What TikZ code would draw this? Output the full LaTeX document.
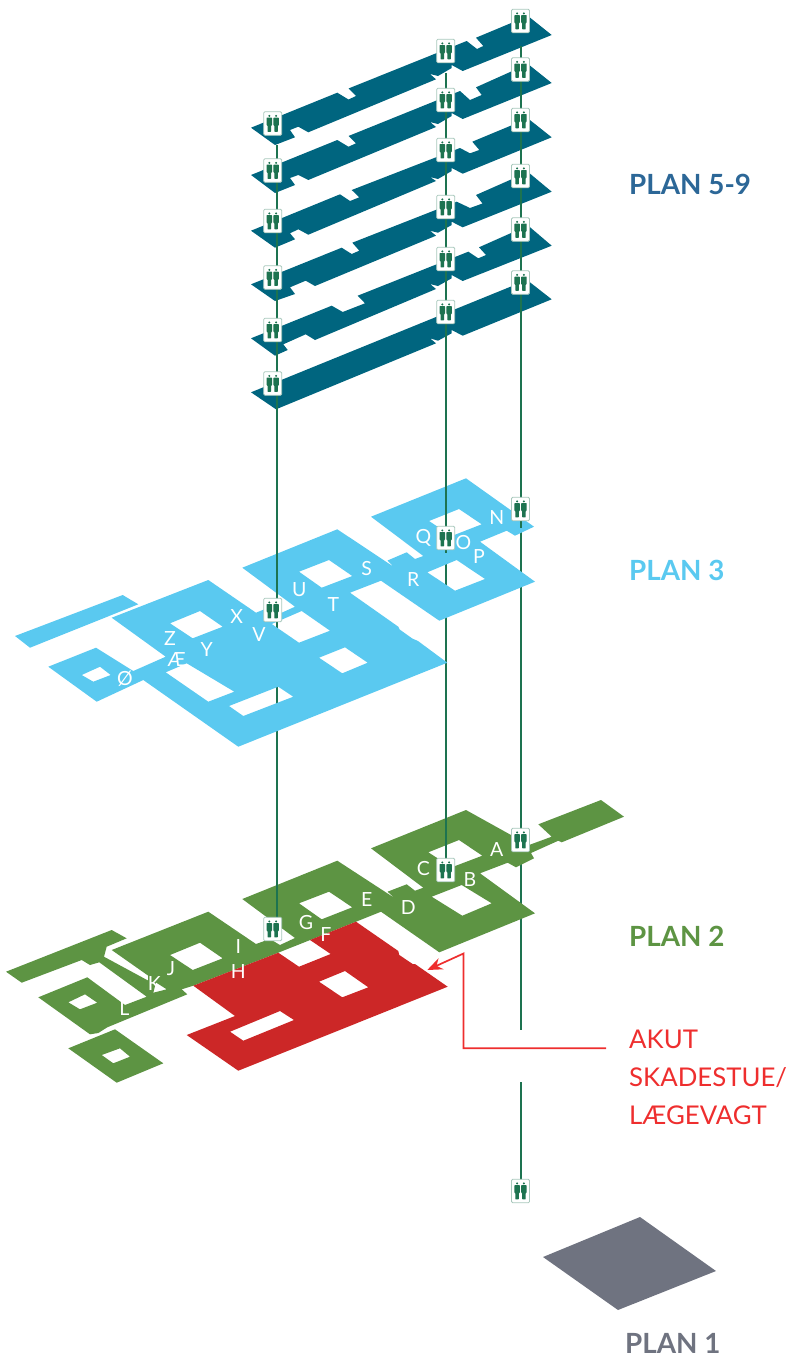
\documentclass[tikz,border=0pt]{standalone}
\usepackage{fontspec}
\setmainfont{Lato}
\usetikzlibrary{arrows.meta}
\definecolor{deckblue}{HTML}{00657F}
\definecolor{skyblue}{HTML}{5AC9F0}
\definecolor{parkgreen}{HTML}{5D9443}
\definecolor{akutred}{HTML}{CC2727}
\definecolor{linered}{HTML}{EE2E2E}
\definecolor{shaftgreen}{HTML}{1D7350}
\definecolor{liftedge}{HTML}{A8C8BC}
\definecolor{slategrey}{HTML}{6F7380}
\definecolor{planblue}{HTML}{2C6797}

\begin{document}
\begin{tikzpicture}[x=1pt, y=-1pt]
    \tikzstyle{deck} = [fill=deckblue, even odd rule]
    \tikzstyle{plan3} = [fill=skyblue, even odd rule]
    \tikzstyle{plan2} = [fill=parkgreen, even odd rule]
    \tikzstyle{akut} = [fill=akutred, even odd rule]
    \tikzstyle{shaft} = [draw=shaftgreen, line width=2.2pt]
    \tikzstyle{lift} = [rectangle, draw=liftedge, fill=white, line width=0.8pt, rounded corners=1.2pt, minimum width=18pt, minimum height=23.5pt, inner sep=0pt]
    \tikzstyle{letter} = [text=white, font=\fontsize{19.5}{19.5}\selectfont, inner sep=0pt]
    \tikzstyle{planlabel} = [anchor=west, font=\fontsize{27.8}{27.8}\selectfont\bfseries, inner sep=0pt]
    \tikzset{twomen/.pic={
        \foreach \dx in {-3.4,3.4} {
            \fill [shaftgreen] (\dx,-7.6) circle (1.1);
            \fill [shaftgreen, rounded corners=0.6pt] (\dx-2.8,-5.9) -- (\dx+2.8,-5.9) -- (\dx+2.8,1.8) -- (\dx+1.8,1.8) -- (\dx+1.8,8.4) -- (\dx-1.8,8.4) -- (\dx-1.8,1.8) -- (\dx-2.8,1.8) -- cycle;
        }
    }}
    \useasboundingbox (0,0) rectangle (787,1357);

    % Shaft ends
    \coordinate (leftTop) at (276.7,145);
    \coordinate (leftStop) at (276.7,600);
    \coordinate (leftMid) at (276.7,610);
    \coordinate (leftEnd) at (276.7,920);
    \coordinate (midTop) at (446,73);
    \coordinate (midStop) at (446,553);
    \coordinate (midEnd) at (446,860);
    \coordinate (rightTop) at (521,46);
    \coordinate (rightStop) at (521,528);
    \coordinate (rightEnd) at (521,830);
    \coordinate (rightLow) at (521,850);
    \coordinate (rightCut) at (521,1030);
    \coordinate (basementTop) at (521,1082);
    \coordinate (basementEnd) at (521,1180);

    % Under plan 2
    \draw [shaft] (rightLow) -- (rightCut);
    \draw [shaft] (basementTop) -- (basementEnd);

    % Plan 2
    \fill [plan2] (6,971.7) -- (111.7,930) -- (126.7,938.3) -- (106.7,946.7) -- (104,956.7) -- (148,980.5) -- (148,975.5) -- (111.7,950) -- (208.3,911.7) -- (256,944) -- (270,939) -- (280,945) -- (295,938) -- (242.3,899) -- (337.3,860.7) -- (395,898.3) -- (387.5,891.7) -- (406.7,884.3) -- (415,890.7) -- (423.3,887.7) -- (371,848.3) -- (466,810) -- (529,845) -- (551.7,836.7) -- (538.3,824.3) -- (601,800) -- (624,816.7) -- (561.7,842.3) -- (558.3,840.7) -- (531,853) -- (534,858.3) -- (516,867.3) -- (507.7,862.7) -- (480,873.3) -- (535,913.3) -- (439.3,952.3) -- (381,911.7) -- (356,921.7) -- (278.3,952.7) -- (193.3,985.7) -- (181.7,989.3) -- (187.3,994.3) -- (107.3,1027.3) -- (98.3,1033) -- (90,1034.3) -- (38.3,997.3) -- (87.3,977.3) -- (125,1005) -- (146.7,996.7) -- (99.3,962.3) -- (90,965) -- (81.7,960) -- (21.7,982.7) -- cycle
        (428.3,852.3) -- (459,840) -- (482.3,855.7) -- (451.7,867.3) -- cycle
        (431.7,896.7) -- (461.7,885) -- (491.7,903.3) -- (462.3,915.7) -- cycle
        (299,903.3) -- (329,891.7) -- (352.3,907.3) -- (321.7,919.3) -- cycle
        (170,955) -- (200,942.7) -- (222.7,958.3) -- (192.7,970) -- cycle
        (156,982.5) -- (166.7,989.3) -- (153.3,992.7) -- cycle
        (68.3,1002.3) -- (85,994.3) -- (97.3,1002.7) -- (80,1009.3) -- cycle;
    \fill [plan2] (68.3,1048.3) -- (115,1029.3) -- (163.3,1063.3) -- (116.7,1082.7) -- cycle
        (101.7,1055) -- (120,1048.3) -- (130,1056.7) -- (113.3,1063.3) -- cycle;
    \fill [akut] (356,921.7) -- (398.3,951) -- (399.3,955) -- (412.7,964) -- (415,964) -- (447.7,986.7) -- (238.3,1070.7) -- (186.7,1035) -- (235,1016) -- (193.3,985.7) -- (278.3,952.7) -- (299,966.7) -- (330.7,954) -- (310,940) -- cycle
        (319,981.7) -- (345,971) -- (368.3,987.3) -- (342.3,997.3) -- cycle
        (230,1031.7) -- (280,1011) -- (294,1020) -- (243.3,1040.7) -- cycle;

    % Under plan 3
    \draw [shaft] (leftMid) -- (leftEnd);
    \draw [shaft] (midStop) -- (midEnd);
    \draw [shaft] (rightStop) -- (rightEnd);

    % Plan 3
    \fill [plan3] (15,636) -- (122.7,595) -- (138.3,604.3) -- (30,647.7) -- cycle;
    \fill [plan3] (48.3,666.7) -- (96,647.7) -- (133.3,671) -- (165.7,656.7) -- (111.7,617.7) -- (208.3,580) -- (256,612.7) -- (270,607) -- (280,613.5) -- (295,606.7) -- (242.3,567.7) -- (337.3,529.3) -- (394,567) -- (387.5,560.5) -- (406.7,552.3) -- (415,559) -- (423.3,556) -- (371,516.7) -- (466,478.3) -- (534,526.7) -- (515,535.7) -- (506.7,530.7) -- (480,541.7) -- (535,581.7) -- (439.3,620.7) -- (381,580.7) -- (350,592.7) -- (398.3,626.7) -- (399.7,629.5) -- (412.3,638.5) -- (418,641) -- (447.3,662.7) -- (238.3,746.7) -- (143.3,680) -- (96.7,701.7) -- cycle
        (81.7,675) -- (100,666.7) -- (110.7,675) -- (93.3,681.7) -- cycle
        (165.7,672.3) -- (186.7,663.3) -- (234.3,691.7) -- (208.3,701.7) -- cycle
        (170,623.3) -- (200,611) -- (222.7,626.7) -- (192.7,638.3) -- cycle
        (229,706) -- (278.3,686.7) -- (293.3,696.7) -- (243.3,716) -- cycle
        (271.7,624) -- (301.7,611) -- (330,630.7) -- (299,642.7) -- cycle
        (299,571.7) -- (329,560) -- (352.3,576) -- (321.7,587.7) -- cycle
        (319,657.7) -- (345,647.3) -- (367.7,662.7) -- (342.3,673.3) -- cycle
        (429,521) -- (459,509) -- (481.7,524.3) -- (451.7,536) -- cycle
        (427.3,572.3) -- (456.7,560) -- (485,579) -- (455,590.7) -- cycle;

    % Plan 5-9
    \fill [deck] (251,127.7) -- (337.3,92.7) -- (348.5,99.5) -- (356,96) -- (348.5,88.5) -- (466.7,41) -- (477,49) -- (483.3,46) -- (476,37.7) -- (528,16) -- (551.7,35) -- (462.7,71) -- (451.7,65) -- (451.7,68) -- (438,76) -- (430,74) -- (436,79.3) -- (308.3,132.3) -- (298.3,126.7) -- (290,130) -- (295,137.3) -- (275,145) -- cycle;
    \fill [deck] (251,175) -- (337.3,140) -- (348.5,146.7) -- (356,143.3) -- (348.5,136) -- (460,91) -- (470,100) -- (481.7,95) -- (476,87.3) -- (528,64) -- (551.7,83) -- (462.7,119) -- (451.7,113) -- (451.7,116) -- (438,124) -- (430,122) -- (436,127) -- (308.3,180) -- (298.3,175) -- (290,178) -- (295,185) -- (275,193) -- cycle;
    \fill [deck] (251,230.7) -- (340,194.3) -- (350,201) -- (359.3,197.3) -- (351.7,190) -- (460,148) -- (470,153.3) -- (479.3,150) -- (472.3,141.7) -- (528,118.5) -- (551.7,137.3) -- (462.7,173.7) -- (451.7,168) -- (451.7,171) -- (438,179) -- (430,177) -- (436,181) -- (308.3,234.7) -- (298.3,229.3) -- (290,233.3) -- (295,239.3) -- (275,247.7) -- cycle;
    \fill [deck] (251,284.3) -- (341.7,247.7) -- (351.7,254) -- (359.3,250.7) -- (352.3,242.7) -- (456.7,201.7) -- (470,208) -- (482.5,203.5) -- (476,195) -- (528,172) -- (551.7,191.7) -- (462.7,227.3) -- (451.7,221.7) -- (451.7,225) -- (438,232.7) -- (430,230.7) -- (436,235.7) -- (315,286) -- (305.7,280.7) -- (290,287.3) -- (295,294) -- (275,301) -- cycle;
    \fill [deck] (251,338.3) -- (331.7,305.7) -- (342.7,312) -- (365,303.3) -- (357.7,295.7) -- (468.3,251.7) -- (478.3,258.3) -- (486,255) -- (479,247.3) -- (528,225.5) -- (551.7,245.7) -- (462.7,281) -- (451.7,275) -- (451.7,278.3) -- (438,286) -- (430,284) -- (436,289) -- (315,340) -- (305.7,334.3) -- (283.3,344.3) -- (287.7,350) -- (275,355.7) -- cycle;
    \fill [deck] (251,392.3) -- (527,280) -- (551.7,299.3) -- (462.7,335.7) -- (451.7,330) -- (451.7,333.3) -- (438,340.7) -- (430,338.3) -- (436,343.3) -- (276,409.3) -- cycle;

    % Plan 1
    \fill [slategrey] (543,1257) -- (640,1217) -- (716,1271) -- (618,1310) -- cycle;

    % Over the plans
    \draw [shaft] (leftTop) -- (leftStop);
    \draw [shaft] (midTop) -- (midStop);
    \draw [shaft] (rightTop) -- (rightStop);

    % Lifts
    \foreach \name/\x/\y in {liftLa/272.7/123.5, liftLb/272.7/170.5, liftLc/272.7/221, liftLd/272.7/277.5, liftLe/272.7/330, liftLf/272.7/383.5,
        liftLg/272.7/610, liftLh/272.7/929,
        liftMa/445.7/51, liftMb/445.7/100, liftMc/445.7/150, liftMd/445.7/207, liftMe/445.7/259, liftMf/445.7/312,
        liftMg/445.7/538, liftMh/445.7/870,
        liftRa/520.5/21, liftRb/520.5/69.5, liftRc/520.5/120, liftRd/520.5/176, liftRe/520.5/229.5, liftRf/520.5/282.5,
        liftRg/520.5/509, liftRh/520.5/840, liftRi/520.5/1191} {
        \node (\name) [lift] at (\x,\y) {};
        \pic at (\name) {twomen};
    }

    % Letters
    \foreach \name/\x/\y/\txt in {
        a/496.7/849.3/A, b/470/880/B, c/423.3/868.3/C, d/408.3/907.3/D, e/366.7/899.3/E, f/326/935/F, g/306/922.7/G, h/238.3/971.7/H, i/238.3/946.7/I, j/171/969/J, k/154.3/984/K, l/124.3/1009/L,
        n/496.7/517.7/N, o/463.3/542.3/O, p/479/556.7/P, q/423.3/538.3/Q, r/413.3/579.3/R, s/366.7/568.3/S, t/333.3/604.3/T, u/299.3/590/U, v/259/634.3/V, x/236.7/616.7/X, y/206.7/649.3/Y, z/170/638.3/Z, ae/176.7/660/Æ, oe/125/678.3/Ø} {
        \node (letter\name) [letter] at (\x,\y) {\txt};
    }

    % Labels
    \node (plan59) [planlabel, text=planblue] at (629,184) {PLAN 5-9};
    \node (plan3) [planlabel, text=skyblue] at (629,570) {PLAN 3};
    \node (plan2) [planlabel, text=parkgreen] at (629,936) {PLAN 2};
    \node (plan1) [planlabel, text=slategrey] at (625,1343) {PLAN 1};
    \node (akutlabel) [anchor=north west, text=linered, align=left, inner sep=0pt, font=\fontsize{25.8}{38}\selectfont] at (629,1029.5) {AKUT\\SKADESTUE/\\LÆGEVAGT};

    % Arrows
    \coordinate (akutStart) at (606,1048.3);
    \coordinate (akutBend) at (463.5,953.5);
    \coordinate (akutTip) at (427.3,970);
    \draw [linered, line width=1.7pt, -{Stealth[length=15pt, width=12pt]}] (akutStart) -| (akutBend) -- (akutTip);
\end{tikzpicture}
\end{document}
